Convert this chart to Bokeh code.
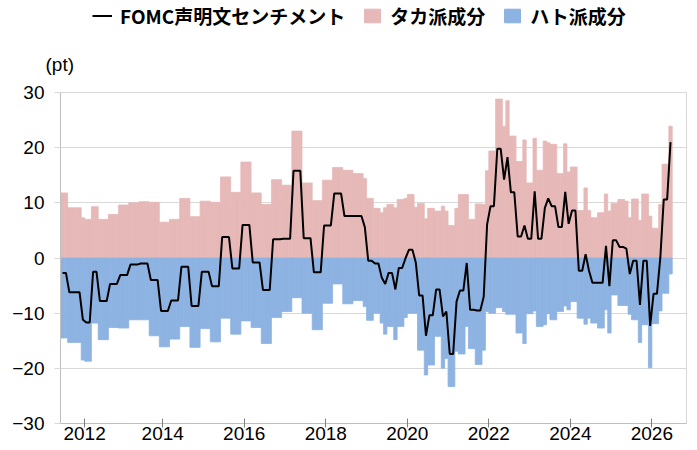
from bokeh.plotting import figure
from bokeh.layouts import column
from bokeh.models import Range1d, FixedTicker, Legend, LegendItem, Label, ColumnDataSource
from bokeh.embed import file_html
from bokeh.resources import INLINE

# Monthly values (Jun 2011 ... Jun 2026)
hawkish = [
    11.8, 11.8, 9.1, 9.1, 9.1, 9.1, 7.3, 7.0, 7.0, 9.3,
    9.3, 7.0, 7.0, 7.0, 7.9, 7.9, 7.9, 9.6, 9.6, 9.6,
    10.0, 10.0, 10.0, 10.2, 10.2, 10.2, 10.1, 10.1, 10.1, 6.5,
    6.5, 6.5, 7.0, 7.0, 7.0, 10.8, 10.8, 10.8, 7.5, 7.5,
    7.5, 10.3, 10.3, 10.3, 10.1, 10.1, 10.1, 14.7, 14.7, 14.7,
    11.9, 11.9, 11.9, 17.4, 17.4, 17.4, 11.8, 11.8, 11.8, 9.7,
    9.7, 9.7, 14.2, 14.2, 14.2, 13.2, 13.2, 13.2, 23.0, 23.0,
    23.0, 13.6, 13.6, 13.6, 10.4, 10.4, 10.4, 14.1, 14.1, 14.1,
    16.4, 16.4, 16.4, 15.9, 15.9, 15.9, 15.3, 15.3, 15.3, 14.4,
    10.8, 10.8, 9.0, 9.0, 8.2, 9.1, 9.7, 9.7, 9.1, 10.6,
    10.6, 10.8, 11.5, 11.5, 9.2, 9.9, 9.9, 7.1, 9.0, 9.0,
    8.5, 8.5, 9.4, 8.5, 5.9, 5.9, 9.0, 11.5, 11.5, 11.5,
    7.0, 7.0, 9.8, 9.8, 9.7, 15.8, 19.4, 19.4, 28.8, 28.8,
    23.9, 28.5, 22.1, 22.1, 17.5, 17.5, 21.4, 13.6, 13.6, 21.7,
    15.9, 15.9, 21.2, 20.9, 20.6, 20.6, 15.3, 15.3, 20.7, 15.6,
    16.5, 16.5, 8.6, 8.6, 12.7, 8.6, 7.3, 7.3, 8.2, 8.2,
    11.6, 8.5, 9.9, 9.9, 10.6, 10.6, 10.3, 7.3, 10.7, 10.7,
    6.8, 11.6, 11.6, 7.6, 5.4, 5.4, 9.7, 17.0, 17.0, 23.9,
]
dovish = [
    -14.5, -14.5, -15.3, -15.3, -15.3, -15.3, -18.5, -18.7, -18.7, -11.8,
    -11.8, -14.8, -14.8, -14.8, -12.6, -12.6, -12.6, -12.7, -12.7, -12.7,
    -11.2, -11.2, -11.2, -11.2, -11.2, -11.2, -14.1, -14.1, -14.1, -16.1,
    -16.1, -16.1, -14.7, -14.7, -14.7, -12.4, -12.4, -12.4, -16.2, -16.2,
    -16.2, -12.8, -12.8, -12.8, -15.2, -15.2, -15.2, -10.9, -10.9, -10.9,
    -13.8, -13.8, -13.8, -11.4, -11.4, -11.4, -12.6, -12.6, -12.6, -15.5,
    -15.5, -15.5, -10.8, -10.8, -10.8, -9.7, -9.7, -9.7, -7.2, -7.2,
    -7.2, -10.0, -10.0, -10.0, -13.0, -13.0, -13.0, -8.2, -8.2, -8.2,
    -4.7, -4.7, -4.7, -8.3, -8.3, -8.3, -7.7, -7.7, -7.7, -8.8,
    -11.3, -11.3, -10.0, -10.0, -11.8, -13.8, -12.4, -12.4, -14.8, -12.4,
    -12.4, -10.8, -10.0, -10.0, -10.0, -16.7, -16.7, -21.2, -19.4, -19.4,
    -14.2, -14.2, -20.0, -18.2, -23.3, -23.3, -16.9, -17.4, -17.4, -12.4,
    -16.4, -16.4, -19.3, -19.3, -16.7, -9.7, -10.0, -10.0, -9.0, -9.0,
    -9.7, -10.2, -10.2, -10.2, -13.6, -13.6, -15.5, -10.1, -10.1, -9.6,
    -12.4, -12.4, -12.1, -10.1, -11.2, -11.2, -9.7, -9.7, -8.7, -9.4,
    -7.9, -7.9, -10.9, -10.9, -12.0, -10.9, -11.8, -11.8, -12.7, -12.7,
    -9.4, -13.6, -6.7, -6.7, -8.6, -8.6, -8.6, -10.2, -11.2, -11.2,
    -15.3, -12.1, -12.1, -19.9, -11.9, -11.9, -9.6, -6.4, -6.4, -2.9,
]
sentiment = [
    -2.7, -2.7, -6.2, -6.2, -6.2, -6.2, -11.2, -11.7, -11.7, -2.5,
    -2.5, -7.8, -7.8, -7.8, -4.7, -4.7, -4.7, -3.1, -3.1, -3.1,
    -1.2, -1.2, -1.2, -1.0, -1.0, -1.0, -4.0, -4.0, -4.0, -9.6,
    -9.6, -9.6, -7.7, -7.7, -7.7, -1.6, -1.6, -1.6, -8.7, -8.7,
    -8.7, -2.5, -2.5, -2.5, -5.1, -5.1, -5.1, 3.8, 3.8, 3.8,
    -1.9, -1.9, -1.9, 6.0, 6.0, 6.0, -0.8, -0.8, -0.8, -5.8,
    -5.8, -5.8, 3.4, 3.4, 3.4, 3.5, 3.5, 3.5, 15.8, 15.8,
    15.8, 3.6, 3.6, 3.6, -2.6, -2.6, -2.6, 5.9, 5.9, 5.9,
    11.7, 11.7, 11.7, 7.6, 7.6, 7.6, 7.6, 7.6, 7.6, 5.6,
    -0.5, -0.5, -1.0, -1.0, -3.6, -4.7, -2.7, -2.7, -5.7, -1.8,
    -1.8, 0.0, 1.5, 1.5, -0.8, -6.8, -6.8, -14.1, -10.4, -10.4,
    -5.7, -5.7, -10.6, -9.7, -17.4, -17.4, -7.9, -5.9, -5.9, -0.9,
    -9.4, -9.4, -9.5, -9.5, -7.0, 6.1, 9.4, 9.4, 19.8, 19.8,
    14.2, 18.3, 11.9, 11.9, 3.9, 3.9, 5.9, 3.5, 3.5, 12.1,
    3.5, 3.5, 9.1, 10.8, 9.4, 9.4, 5.6, 5.6, 12.0, 6.2,
    8.6, 8.6, -2.3, -2.3, 0.7, -2.3, -4.5, -4.5, -4.5, -4.5,
    2.2, -5.1, 3.2, 3.2, 2.0, 2.0, 1.7, -2.9, -0.5, -0.5,
    -8.5, -0.5, -0.5, -12.3, -6.5, -6.5, 0.1, 10.6, 10.6, 21.0,
]
year_tick_index = [7, 30, 54, 78, 102, 126, 150, 174]
year_labels = ["2012", "2014", "2016", "2018", "2020", "2022", "2024", "2026"]
y_ticks = [-30, -20, -10, 0, 10, 20, 30]

HAWK = "#e6b9b8"
DOVE = "#8db3e2"
W = 689
HEAD_H = 80
MAIN_H = 362

source = ColumnDataSource(data=dict(
    x=[i + 0.5 for i in range(len(hawkish))],
    hawk=hawkish,
    dove=dovish,
    net=sentiment,
))

# ---------- header: legend and unit label ----------
head = figure(width=W, height=HEAD_H, output_backend="svg", toolbar_location=None,
              x_range=Range1d(1000, 1000 + W), y_range=Range1d(0, HEAD_H),
              x_axis_type=None, y_axis_type=None, min_border=0)
head.frame_align = False
head.outline_line_color = None
head.grid.visible = False
g_l = head.line(x="x", y="net", source=source, line_color="#000000", line_width=2,
                visible=False)
g_h = head.vbar(x="x", top="hawk", width=1, source=source, fill_color=HAWK,
                line_color=HAWK, visible=False)
g_d = head.vbar(x="x", top="dove", width=1, source=source, fill_color=DOVE,
                line_color=DOVE, visible=False)

legend = Legend(items=[LegendItem(label="FOMC声明文センチメント", renderers=[g_l]),
                       LegendItem(label="タカ派成分", renderers=[g_h]),
                       LegendItem(label="ハト派成分", renderers=[g_d])],
                location=(92, 51), orientation="horizontal",
                glyph_width=20, glyph_height=17, label_standoff=8, spacing=17,
                padding=0, margin=0, border_line_color=None,
                background_fill_alpha=0, inactive_fill_alpha=0,
                label_text_font="Noto Sans CJK JP",
                label_text_font_size="19px", label_text_font_style="bold",
                label_text_color="#000000")
head.add_layout(legend)
head.add_layout(Label(x=45, y=16.5, x_units="screen", y_units="screen", text="(pt)",
                      text_font="Liberation Sans", text_font_size="19px",
                      text_color="#000000", text_baseline="middle"))

# ---------- main chart ----------
p = figure(width=W, height=MAIN_H, output_backend="svg", toolbar_location=None,
           x_range=Range1d(-0.1, 184.2), y_range=Range1d(-30, 30),
           min_border_left=60, min_border_right=3, min_border_top=12,
           min_border_bottom=0)
p.frame_align = False
p.outline_line_color = "#d9d9d9"
p.outline_line_width = 1

p.vbar(x="x", top="hawk", bottom=0, width=1.0, source=source,
       fill_color=HAWK, line_color=HAWK, line_width=0.8)
p.vbar(x="x", top=0, bottom="dove", width=1.0, source=source,
       fill_color=DOVE, line_color=DOVE, line_width=0.8)
p.line(x="x", y="net", source=source, line_color="#000000", line_width=2)

p.xgrid.visible = False
p.ygrid.grid_line_color = "#d9d9d9"
p.ygrid.grid_line_width = 1
p.ygrid.level = "underlay"

xa = p.xaxis[0]
xa.ticker = FixedTicker(ticks=year_tick_index)
xa.major_label_overrides = {t: lab for t, lab in zip(year_tick_index, year_labels)}
xa.axis_line_color = "#bfbfbf"
xa.major_tick_line_color = "#808080"
xa.major_tick_in = 5
xa.major_tick_out = 4
xa.minor_tick_line_color = None
xa.major_label_standoff = -1
xa.major_label_text_font = "Liberation Sans"
xa.major_label_text_font_size = "19px"
xa.major_label_text_color = "#000000"

ya = p.yaxis[0]
ya.ticker = FixedTicker(ticks=y_ticks)
ya.axis_line_color = "#bfbfbf"
ya.major_tick_line_color = "#d9d9d9"
ya.major_tick_in = 0
ya.major_tick_out = 6
ya.minor_tick_line_color = None
ya.major_label_standoff = 10
ya.major_label_text_font = "Liberation Sans"
ya.major_label_text_font_size = "19px"
ya.major_label_text_color = "#000000"

layout = column(head, p, spacing=0)
open("out.html", "w").write(file_html(layout, INLINE))
